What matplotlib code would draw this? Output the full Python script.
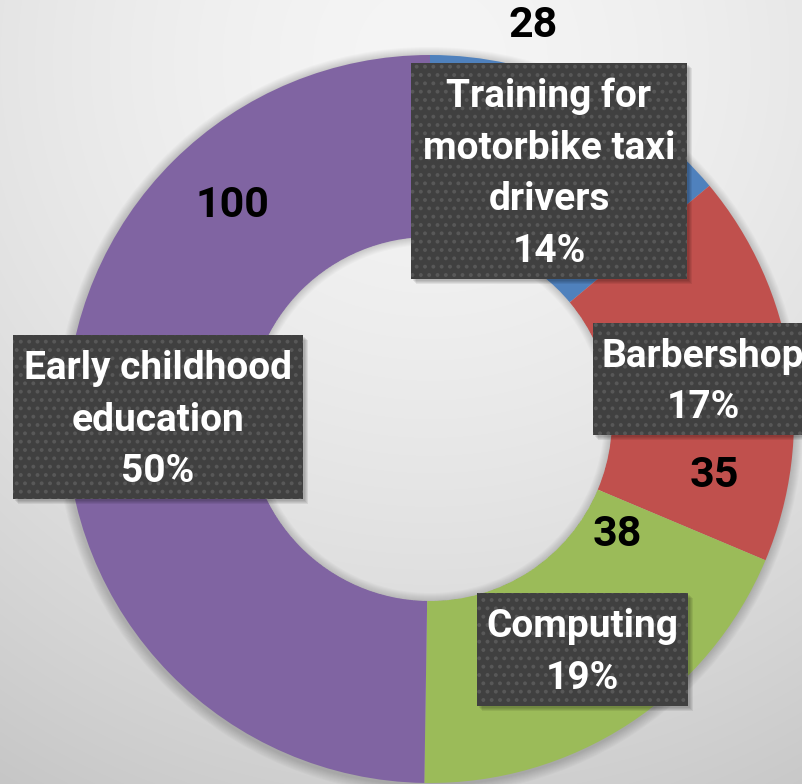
import numpy as np
import matplotlib
matplotlib.use('Agg')
import matplotlib.pyplot as plt
from matplotlib.patches import Rectangle, Wedge

# data
categories = ['Training for\nmotorbike taxi\ndrivers', 'Barbershop', 'Computing', 'Early childhood\neducation']
values = [28, 35, 38, 100]
colors = ['#4F81BD', '#C0504D', '#9BBB59', '#8064A2']

W, H = 802, 784
plt.rcParams['font.family'] = ['Roboto', 'DejaVu Sans']
plt.rcParams['hatch.linewidth'] = 1.6

def py(y):
    # pixel row (from top) -> data y
    return H - y

fig = plt.figure(figsize=(W / 100, H / 100), dpi=100)
ax = fig.add_axes([0, 0, 1, 1])

# radial background
xx, yy = np.meshgrid(np.arange(W), np.arange(H))
d = np.hypot(xx - 430, yy - 60)
v = (245 - 45 * (d / 820) ** 1.6) / 255.
bg = np.dstack([v, v, v])
ax.imshow(bg, extent=(0, W, 0, H), origin='upper', zorder=0, interpolation='bilinear')

cx, cy, R = 430, py(419), 364
width = 182
r_in = R - width

# soft outer shadow (ring only)
for k in range(10):
    ro = R + 10 - k
    ax.add_patch(Wedge((cx - 1, cy - 2), ro, 0, 360, width=ro - r_in - 5,
                       facecolor='black', alpha=0.018, lw=0, zorder=1))

wedges, _ = ax.pie(values, colors=colors, startangle=90, counterclock=False,
                   radius=R, center=(cx, cy),
                   wedgeprops=dict(width=width, edgecolor='none', linewidth=0))
for w in wedges:
    w.set_zorder(2)

# inner shadow of the hole
for k in range(8):
    ax.add_patch(Wedge((cx, cy), r_in, 0, 360, width=8 - k, facecolor='black',
                       alpha=0.02, lw=0, zorder=3))

# category boxes (left, top, right, bottom in pixels)
boxes = [(411, 63, 687, 279), (593, 323, 813, 435), (477, 593, 688, 706), (13, 335, 303, 499)]
total = sum(values)
for name, val, (l, t, r, b) in zip(categories, values, boxes):
    for k in range(4):
        ax.add_patch(Rectangle((l + 2 + k, py(b) - 2 - k), r - l, b - t,
                               facecolor='black', alpha=0.07, lw=0, zorder=4))
    ax.add_patch(Rectangle((l, py(b)), r - l, b - t, facecolor='#404040',
                           edgecolor='#585858', hatch='..', lw=0, zorder=5))
    ax.text((l + r) / 2, py((t + b) / 2 + 3), '%s\n%d%%' % (name, round(100 * val / total)),
            ha='center', va='center', color='white', fontsize=28, fontweight='bold',
            linespacing=1.5, zorder=6)

# value labels
value_pos = [(533, 25), (714, 475), (617, 535), (232, 205)]
for val, (x, y) in zip(values, value_pos):
    ax.text(x, py(y), str(val), ha='center', va='center', color='black',
            fontsize=31, fontweight='bold', zorder=6)

ax.set_xlim(0, W)
ax.set_ylim(0, H)
ax.set_aspect('auto')
ax.axis('off')
fig.savefig('out.png', dpi=100)
